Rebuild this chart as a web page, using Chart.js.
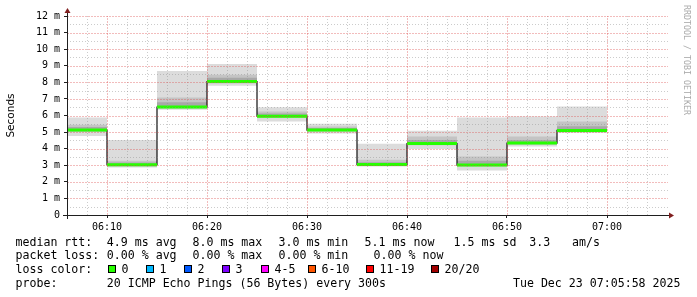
<!DOCTYPE html>
<html><head><meta charset="utf-8">
<script src="https://cdn.jsdelivr.net/npm/chart.js@4/dist/chart.umd.min.js"></script>
<style>
html,body{margin:0;padding:0;background:#fff;}
#wrap{position:relative;width:697px;height:297px;overflow:hidden;background:#fff;}
canvas{position:absolute;left:0;top:0;}
.t{position:absolute;font-family:"DejaVu Sans Mono",monospace;font-size:11.6px;line-height:14px;white-space:pre;color:#000;}
.box{position:absolute;width:6px;height:6px;border:1px solid #000;}
#credit{position:absolute;font-family:"DejaVu Sans Mono",monospace;font-size:8.3px;line-height:10px;color:#aaa;white-space:pre;transform-origin:0 0;transform:rotate(90deg);left:692px;top:5px;}
</style></head><body>
<div id="wrap"><canvas id="c" width="697" height="297"></canvas></div>
<script>
// ---- data (milliseconds) ----
const times    = ["06:05","06:10","06:15","06:20","06:25","06:30","06:35","06:40","06:45","06:50","06:55"];
const median   = [5.12, 3.03, 6.51, 8.05, 5.96, 5.12, 3.05, 4.31, 3.01, 4.34, 5.10];
const smokeMin = [4.76, 2.87, 6.34, 7.79, 5.64, 4.92, 2.93, 3.98, 2.69, 4.13, 4.94];
const smokeMax = [5.88, 4.52, 8.69, 9.11, 6.50, 5.50, 4.30, 5.08, 5.88, 5.94, 6.54];
const midLo    = [5.00, 2.93, 6.42, 7.93, 5.86, 5.02, 2.97, 4.21, 2.93, 4.24, 5.01];
const midHi    = [5.44, 3.27, 7.08, 8.45, 6.24, 5.34, 3.33, 4.73, 3.53, 4.73, 5.64];
const darkLo   = [5.05, 2.98, 6.46, 7.99, 5.91, 5.07, 3.00, 4.26, 2.97, 4.29, 5.05];
const darkHi   = [5.30, 3.16, 6.80, 8.28, 6.12, 5.25, 3.18, 4.52, 3.27, 4.53, 5.35];
const xRange   = ["06:06","07:06"];
const xTickLabels = ["06:10","06:20","06:30","06:40","06:50","07:00"];
const yTickLabels = ["0","1 m","2 m","3 m","4 m","5 m","6 m","7 m","8 m","9 m","10 m","11 m","12 m"];
const stepMinutes = 5;

const rttItems   = ["median rtt:","4.9 ms avg","8.0 ms max","3.0 ms min","5.1 ms now","1.5 ms sd","3.3","am/s"];
const lossItems  = ["packet loss:","0.00 % avg","0.00 % max","0.00 % min","0.00 % now"];
const lossLabels = ["0","1","2","3","4-5","6-10","11-19","20/20"];
const lossColors = ["#26ff00","#00b8ff","#0059ff","#7e00ff","#ff00ff","#ff5500","#ff0000","#a10000"];
const probeText  = ["probe:","20 ICMP Echo Pings (56 Bytes) every 300s"];
const stampText  = "Tue Dec 23 07:05:58 2025";

// ---- layout (positions) ----
const rttX  = [15.5,106.8,192.5,278.5,364.6,453.6,529.3,572];
const lossX = [15.5,106.8,192.5,278.5,373.6];
const boxX  = [108,146,184,222,261,308,366,431];
const rowTop = [234.6,247.6,262.2,275.6];

const toMin = s => { const [h,m] = s.split(':').map(Number); return h*60+m; };
const xMajor = xTickLabels.map(toMin);

function stepPts(vals){
  const p = times.map((t,i)=>({x:toMin(t), y:vals[i]}));
  p.push({x:toMin(times[times.length-1])+stepMinutes, y:vals[vals.length-1]});
  return p;
}
function segPts(vals){
  const p = [];
  times.forEach((t,i)=>{ const a=toMin(t); p.push({x:a,y:vals[i]},{x:a+stepMinutes,y:vals[i]},{x:a+stepMinutes,y:null}); });
  return p;
}
function band(lo, hi, color, ord){
  return [
    {data:stepPts(lo), stepped:'before', borderWidth:0, borderColor:'transparent', pointRadius:0, fill:false, order:ord},
    {data:stepPts(hi), stepped:'before', borderWidth:0, borderColor:'transparent', pointRadius:0, fill:'-1', backgroundColor:color, order:ord}
  ];
}

const datasets = [
  ...band(smokeMin, smokeMax, '#dcdcdc', 10),
  ...band(midLo, midHi, '#c4c4c4', 9),
  ...band(darkLo, darkHi, '#a8a8a8', 8),
  {data:stepPts(median), stepped:'before', borderColor:'#111', borderWidth:1.2, pointRadius:0, fill:false, order:2},
  {data:segPts(median), borderColor:lossColors[0], borderWidth:3, borderCapStyle:'butt', pointRadius:0, fill:false, spanGaps:false, order:1}
];

const minorC = 'rgba(143,143,143,0.45)';
const majorC = 'rgba(222,79,79,0.38)';

const gridPlugin = {
  id:'rrdGrid',
  afterDatasetsDraw(chart){
    const {ctx, chartArea:a, scales:{x, y}} = chart;
    ctx.save();
    ctx.lineWidth = 1;
    const vline = (px, col, dash) => { ctx.strokeStyle=col; ctx.setLineDash(dash); ctx.beginPath(); const xx=Math.round(px)+0.5; ctx.moveTo(xx, a.bottom); ctx.lineTo(xx, a.top); ctx.stroke(); };
    const hline = (py, col, dash) => { ctx.strokeStyle=col; ctx.setLineDash(dash); ctx.beginPath(); const yy=Math.round(py)+0.5; ctx.moveTo(a.left, yy); ctx.lineTo(a.right+1, yy); ctx.stroke(); };
    x.ticks.forEach(t => { if (t.value===x.min || t.value===x.max || xMajor.includes(t.value)) return; vline(x.getPixelForValue(t.value), minorC, [1,2]); });
    y.ticks.forEach(t => { if (t.value===0 || Number.isInteger(t.value)) return; hline(y.getPixelForValue(t.value), minorC, [1,2]); });
    x.ticks.forEach(t => { if (!xMajor.includes(t.value)) return; vline(x.getPixelForValue(t.value), majorC, [2,1]); });
    y.ticks.forEach(t => { if (t.value===0 || !Number.isInteger(t.value)) return; hline(y.getPixelForValue(t.value), majorC, [2,1]); });
    ctx.restore();
  },
  afterDraw(chart){
    const {ctx, chartArea:a} = chart;
    ctx.save();
    ctx.strokeStyle = 'rgb(31,31,31)';
    ctx.lineWidth = 1;
    ctx.setLineDash([]);
    ctx.beginPath();
    ctx.moveTo(a.left-4, a.bottom+0.5); ctx.lineTo(a.right+3, a.bottom+0.5);
    ctx.moveTo(a.left+0.5, a.bottom+4); ctx.lineTo(a.left+0.5, a.top-4);
    ctx.stroke();
    ctx.fillStyle = 'rgb(128,31,31)';
    ctx.beginPath();
    ctx.moveTo(a.right+2, a.bottom-2.5); ctx.lineTo(a.right+7, a.bottom+0.5); ctx.lineTo(a.right+2, a.bottom+3.5); ctx.closePath();
    ctx.fill();
    ctx.beginPath();
    ctx.moveTo(a.left-2.5, a.top-3); ctx.lineTo(a.left+0.5, a.top-8); ctx.lineTo(a.left+3.5, a.top-3); ctx.closePath();
    ctx.fill();
    ctx.restore();
  }
};

const tickFont = {family:'"DejaVu Sans Mono"', size:10};
const xMin = toMin(xRange[0]), xMax = toMin(xRange[1]);

new Chart(document.getElementById('c'), {
  type:'line',
  data:{datasets},
  options:{
    responsive:false, animation:false, devicePixelRatio:1,
    layout:{padding:{left:0,right:30,top:16,bottom:0}},
    plugins:{legend:{display:false}, tooltip:{enabled:false}},
    scales:{
      x:{type:'linear', min:xMin, max:xMax,
        ticks:{stepSize:2, autoSkip:false, maxRotation:0, padding:3, color:'#000', font:tickFont,
          callback:v => xMajor.includes(v) ? xTickLabels[xMajor.indexOf(v)] : ''},
        grid:{drawOnChartArea:false, lineWidth:1, tickLength:3,
          tickColor:c => xMajor.includes(c.tick.value) ? 'rgb(31,31,31)' : 'transparent'},
        border:{display:false},
        afterFit:s => { s.height = 82; }
      },
      y:{type:'linear', min:0, max:12,
        ticks:{stepSize:0.5, autoSkip:false, padding:4, color:'#000', font:tickFont,
          callback:v => Number.isInteger(v) ? yTickLabels[v] : ''},
        grid:{drawOnChartArea:false, lineWidth:1, tickLength:3,
          tickColor:c => Number.isInteger(c.tick.value) ? 'rgb(31,31,31)' : 'transparent'},
        border:{display:false},
        title:{display:true, text:'Seconds', color:'#000', font:{family:'"DejaVu Sans"', size:10.5}, padding:{top:5,bottom:0}},
        afterFit:s => { s.width = 67; }
      }
    }
  },
  plugins:[gridPlugin]
});

// ---- legend text (HTML) ----
const wrap = document.getElementById('wrap');
function addText(txt, x, y){ const d=document.createElement('div'); d.className='t'; d.textContent=txt; d.style.left=x+'px'; d.style.top=y+'px'; wrap.appendChild(d); return d; }
rttItems.forEach((t,i)=>addText(t, rttX[i], rowTop[0]));
lossItems.forEach((t,i)=>addText(t, lossX[i], rowTop[1]));
addText("loss color:", 15.5, rowTop[2]);
lossLabels.forEach((t,i)=>{
  const b=document.createElement('div'); b.className='box'; b.style.left=boxX[i]+'px'; b.style.top=(rowTop[2]+3)+'px'; b.style.background=lossColors[i]; wrap.appendChild(b);
  addText(t, boxX[i]+13.5, rowTop[2]);
});
addText(probeText[0], 15.5, rowTop[3]);
addText(probeText[1], 106.8, rowTop[3]);
const st = addText(stampText, 0, rowTop[3]);
st.style.left = (680.5 - st.getBoundingClientRect().width)+'px';
const cr = document.createElement('div'); cr.id='credit'; cr.textContent='RRDTOOL / TOBI OETIKER'; wrap.appendChild(cr);
</script>
</body></html>
